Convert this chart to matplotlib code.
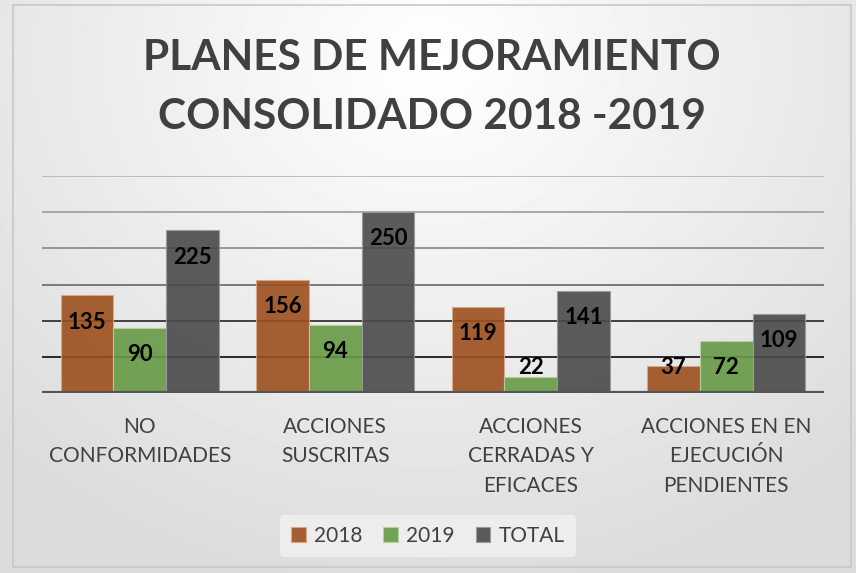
import matplotlib
matplotlib.use("Agg")
from matplotlib import pyplot as plt
from matplotlib.patches import Rectangle
import numpy as np

plt.rcParams['font.family'] = ['Lato', 'DejaVu Sans']

categories = ["NO\nCONFORMIDADES", "ACCIONES\nSUSCRITAS",
              "ACCIONES\nCERRADAS Y\nEFICACES", "ACCIONES EN EN\nEJECUCIÓN\nPENDIENTES"]
series_names = ["2018", "2019", "TOTAL"]
vals_2018 = [135, 156, 119, 37]
vals_2019 = [90, 94, 22, 72]
vals_total = [225, 250, 141, 109]

colors = ["#9C4F1E", "#669A45", "#4A4A4A"]
edges = ["#D9A98A", "#B5D3A2", "#9A9A9A"]
TXT = "#404040"

W, H = 856, 573
fig = plt.figure(figsize=(W / 100, H / 100), dpi=100)

# background gradient (white near the title, light gray at the edges)
bg = fig.add_axes([0, 0, 1, 1], zorder=-10)
yy, xx = np.mgrid[0:H, 0:W]
d = np.sqrt(((xx - 430) / 620.0) ** 2 + ((yy - 60) / 540.0) ** 2)
shade = 1.0 - 0.14 * np.clip(d, 0, 1)
bg.imshow(shade, cmap="gray", vmin=0, vmax=1, extent=[0, W, H, 0], aspect="auto")
bg.add_patch(Rectangle((13, 5), 838, 562, fill=False, edgecolor="#C8C8C8", lw=1.2))
bg.set_xlim(0, W)
bg.set_ylim(H, 0)
bg.axis("off")

ax = fig.add_axes([42 / W, 180 / H, 782 / W, 217 / H])
ax.patch.set_alpha(0)
ax.set_xlim(-0.5, 3.5)
ax.set_ylim(0, 300)

grid_cols = {50: "#1A1A1A", 100: "#333333", 150: "#707070", 200: "#8F8F8F",
             250: "#A3A3A3", 300: "#B8B8B8"}
for v, c in grid_cols.items():
    ax.axhline(v, color=c, lw=1.3, zorder=1)
ax.axhline(0, color="#555555", lw=3, zorder=4)

x = np.arange(len(categories))
bw = 0.27
all_vals = [vals_2018, vals_2019, vals_total]
bars = []
for i, (vals, name) in enumerate(zip(all_vals, series_names)):
    b = ax.bar(x + (i - 1) * bw, vals, bw, color=colors[i], edgecolor=edges[i],
               linewidth=0.8, alpha=0.9, zorder=3, label=name)
    bars.append(b)
    for xi, v in zip(x + (i - 1) * bw, vals):
        ax.text(xi, max(v - 37, 35), str(v), ha="center", va="center",
                fontsize=16, fontweight="bold", color="black", zorder=5)

for s in ax.spines.values():
    s.set_visible(False)
ax.set_yticks([])
ax.set_xticks(x)
ax.set_xticklabels(categories, fontsize=15, color=TXT, linespacing=1.6, va="top")
ax.tick_params(axis="x", length=0, pad=17)

fig.text(0.505, 1 - 58 / H, "PLANES DE MEJORAMIENTO", ha="center", va="center",
         fontsize=30.5, fontweight="bold", color=TXT)
fig.text(0.505, 1 - 117 / H, "CONSOLIDADO 2018 -2019", ha="center", va="center",
         fontsize=30.5, fontweight="bold", color=TXT)

leg = fig.legend(handles=bars, labels=series_names, loc="center",
                 bbox_to_anchor=(428 / W, 1 - 536 / H), ncol=3, fontsize=15,
                 frameon=True, facecolor="#EDEDED", edgecolor="none",
                 handlelength=0.7, handleheight=0.7, columnspacing=1.0,
                 handletextpad=0.4, borderpad=0.55)
leg.get_frame().set_alpha(1)
for t in leg.get_texts():
    t.set_color(TXT)

fig.savefig("out.png", dpi=100)
